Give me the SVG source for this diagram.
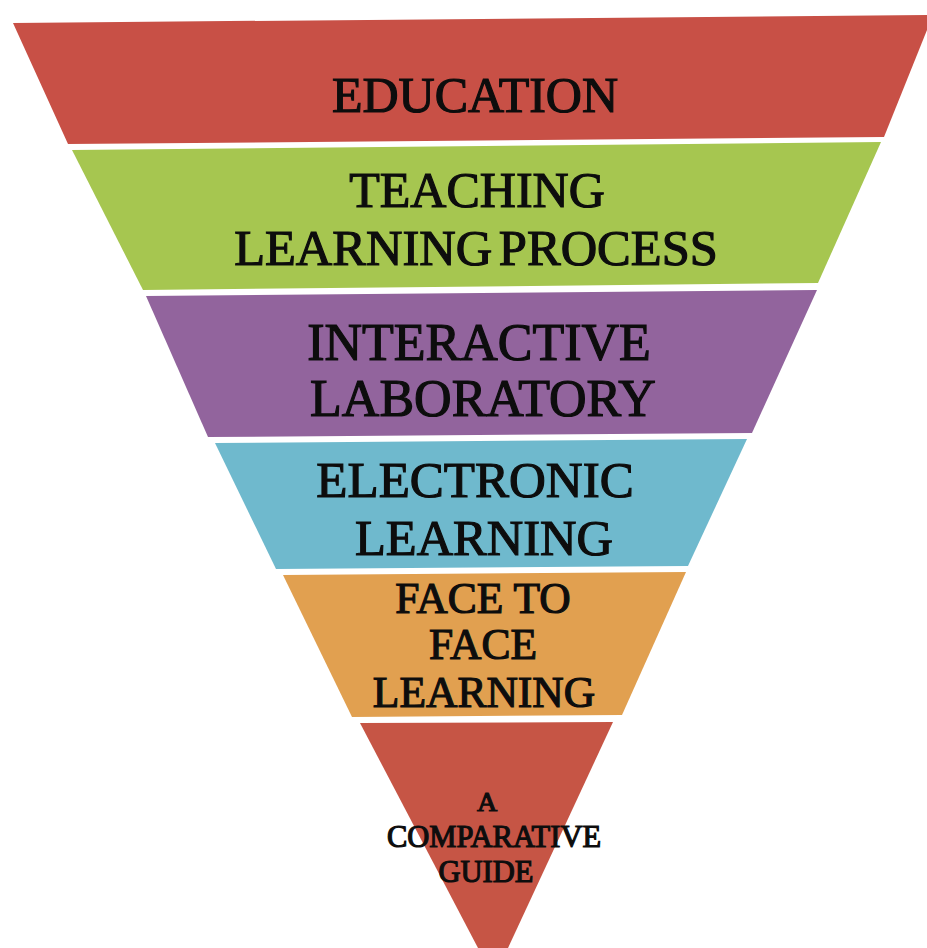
<svg xmlns="http://www.w3.org/2000/svg" width="927" height="948" viewBox="0 0 927 948">
<style>
  .t { font-family: "Liberation Serif", "Times New Roman", serif; fill: #0d0d0d; stroke: #0d0d0d; stroke-width: 1.2; text-anchor: middle; }
</style>
<rect width="927" height="948" fill="#ffffff"/>
<g id="education">
  <polygon points="13,23 927,15 927,30 884,137 68,144" fill="#c85046"/>
  <text class="t" x="475" y="112" font-size="50">EDUCATION</text>
</g>
<g id="teaching-learning-process">
  <polygon points="72,150 881,142 818,283 143,290" fill="#a6c650"/>
  <text class="t" x="477" y="207" font-size="50">TEACHING</text>
  <text class="t" x="476" y="265" font-size="50.5" word-spacing="-6">LEARNING PROCESS</text>
</g>
<g id="interactive-laboratory">
  <polygon points="146,296 817,290 752,433 208,437" fill="#92649d"/>
  <text class="t" x="479" y="360" font-size="52">INTERACTIVE</text>
  <text class="t" x="483" y="416" font-size="52">LABORATORY</text>
</g>
<g id="electronic-learning">
  <polygon points="215,443 747,439 688,566 276,569" fill="#6fb9cd"/>
  <text class="t" x="475" y="497" font-size="51">ELECTRONIC</text>
  <text class="t" x="484" y="555" font-size="50.5">LEARNING</text>
</g>
<g id="face-to-face-learning">
  <polygon points="283,575 686,572 622,715 352,717" fill="#e1a050"/>
  <text class="t" x="483" y="613" font-size="43.5">FACE TO</text>
  <text class="t" x="483" y="659" font-size="43.5">FACE</text>
  <text class="t" x="484" y="707" font-size="43.5">LEARNING</text>
</g>
<g id="comparative-guide">
  <polygon points="360,723 613,722 508,948 478,948" fill="#c65545"/>
  <text class="t" x="487" y="811" font-size="28">A</text>
  <text class="t" x="494" y="847" font-size="30.5">COMPARATIVE</text>
  <text class="t" x="486" y="882" font-size="30.5">GUIDE</text>
</g>
<g id="connectors"></g>
</svg>
